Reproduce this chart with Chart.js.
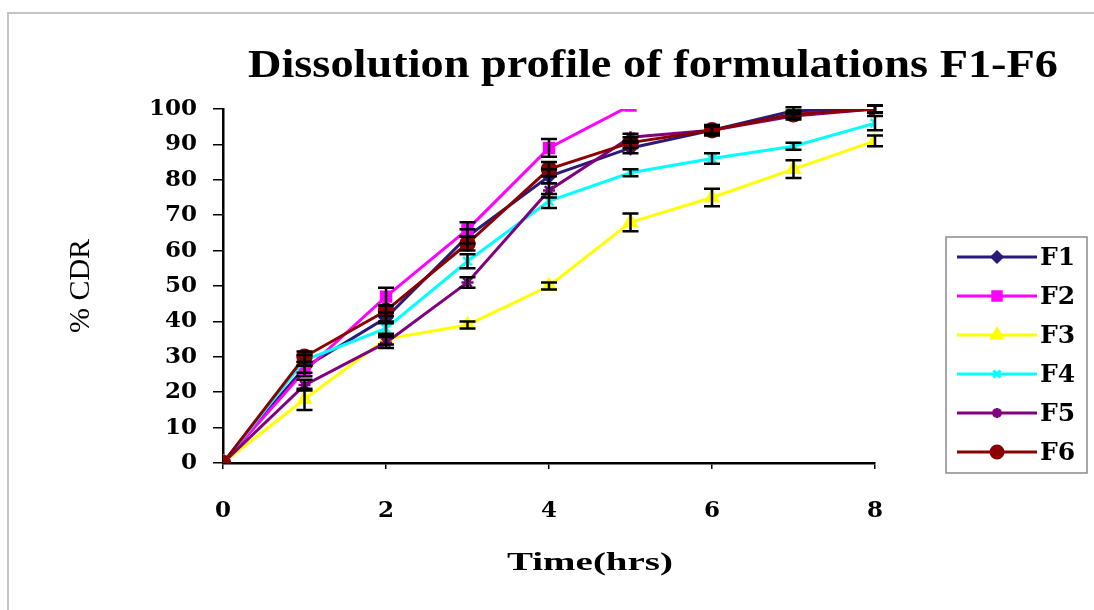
<html>
<head>
<script src="https://cdn.jsdelivr.net/npm/chart.js@4/dist/chart.umd.min.js"></script>
<style>
body { margin: 0; background: #fff; }
#wrap { position: relative; width: 1094px; height: 610px; }
#frame { position: absolute; left: 7px; top: 12px; width: 1200px; height: 700px;
  border-left: 2px solid #c4c4c4; border-top: 2px solid #c4c4c4; pointer-events: none; }
</style>
</head>
<body>
<div id="wrap">
<canvas id="myChart" width="1094" height="610"></canvas>
<div id="frame"></div>
</div>
<script>
// time in hours and %CDR for each formulation
const time = [0, 1, 2, 3, 4, 5, 6, 7, 8];
const F1 = [0, 27, 41, 64, 81, 89, 94, 99.5, 100];
const F2 = [0, 26, 47, 66, 89, 101];
const F3 = [0, 18, 35, 39, 50, 68, 75, 83, 91];
const F4 = [0, 29, 38, 57, 74, 82, 86, 89.5, 96];
const F5 = [0, 22, 34, 51, 77, 92, 94, 98, 100];
const F6 = [0, 30, 43, 62, 83, 90.5, 94, 98.5, 100];
// standard deviations (error bars)
const F1err = [0, 1.5, 1.5, 2, 2, 1.5, 1, 1, 1];
const F2err = [0, 1.5, 2.5, 2, 2.5, 0];
const F3err = [0, 3, 1.5, 1, 1, 2.5, 2.5, 2.5, 1.5];
const F4err = [0, 1.5, 2, 2, 2, 1, 1.5, 1, 2];
const F5err = [0, 1.5, 1.5, 1.5, 2, 1, 1, 1, 1];
const F6err = [0, 1.5, 1.5, 2, 2, 1.5, 1.5, 1, 1];
const yTicks = [0, 10, 20, 30, 40, 50, 60, 70, 80, 90, 100];
const xTicks = [0, 2, 4, 6, 8];

const names = ['F1', 'F2', 'F3', 'F4', 'F5', 'F6'];
const values = [F1, F2, F3, F4, F5, F6];
const errors = [F1err, F2err, F3err, F4err, F5err, F6err];
const colors = ['#2a1a7a', '#ff00ff', '#ffff00', '#00ffff', '#800080', '#8b0000'];
const markers = ['rectRot', 'rect', 'triangle', 'crossRot', 'star', 'circle'];
const sizes = [6, 7, 7, 6, 6, 7];

const serif = "'DejaVu Serif', serif";

let datasets = names.map((n, i) => ({
    label: n,
    data: values[i].map((v, j) => ({ x: time[j], y: v })),
    errors: errors[i],
    borderColor: colors[i],
    backgroundColor: colors[i],
    borderWidth: 3,
    pointStyle: markers[i],
    pointRadius: sizes[i],
    pointBorderWidth: 2.5,
    pointBorderColor: colors[i],
    pointBackgroundColor: colors[i],
    tension: 0,
    order: 5 - i
}));

// draw text squeezed/stretched to a given width
function fitText(ctx, text, cx, y, width) {
    let w = ctx.measureText(text).width;
    ctx.save();
    ctx.translate(cx, y);
    ctx.scale(width / w, 1);
    ctx.fillText(text, 0, 0);
    ctx.restore();
}

const extras = {
    id: 'extras',
    afterDatasetsDraw(chart) {
        let ctx = chart.ctx;
        let xs = chart.scales.x, ys = chart.scales.y;
        ctx.save();
        ctx.strokeStyle = '#000';
        ctx.lineWidth = 2.5;
        chart.data.datasets.forEach(ds => {
            ds.data.forEach((p, j) => {
                let e = ds.errors[j];
                if (!e || p.y > 100) return;
                let px = xs.getPixelForValue(p.x);
                let y1 = ys.getPixelForValue(p.y + e);
                let y2 = ys.getPixelForValue(p.y - e);
                ctx.beginPath();
                ctx.moveTo(px, y1); ctx.lineTo(px, y2);
                ctx.moveTo(px - 8, y1); ctx.lineTo(px + 8, y1);
                ctx.moveTo(px - 8, y2); ctx.lineTo(px + 8, y2);
                ctx.stroke();
            });
        });
        ctx.restore();
    },
    afterDraw(chart) {
        let ctx = chart.ctx;
        ctx.save();
        // title
        ctx.fillStyle = '#000';
        ctx.textAlign = 'center';
        ctx.textBaseline = 'alphabetic';
        ctx.font = "bold 40px 'Liberation Serif', serif";
        fitText(ctx, 'Dissolution profile of formulations F1-F6', 653, 77, 810);
        // x axis title
        ctx.font = "bold 26px 'Liberation Serif', serif";
        ctx.textBaseline = 'middle';
        fitText(ctx, 'Time(hrs)', 590, 563, 166);
        // legend
        ctx.fillStyle = '#fff';
        ctx.fillRect(946, 237, 141, 236);
        ctx.strokeStyle = '#8a8a8a';
        ctx.lineWidth = 1.5;
        ctx.strokeRect(946, 237, 141, 236);
        chart.data.datasets.forEach((ds, i) => {
            let y = 257 + i * 39;
            ctx.strokeStyle = ds.borderColor;
            ctx.lineWidth = 3;
            ctx.beginPath();
            ctx.moveTo(957, y); ctx.lineTo(1037, y);
            ctx.stroke();
            ctx.fillStyle = ds.borderColor;
            Chart.helpers.drawPoint(ctx, {
                pointStyle: ds.pointStyle, radius: ds.pointRadius - 1, rotation: 0,
                borderWidth: 2
            }, 997, y);
            ctx.fillStyle = '#000';
            ctx.textAlign = 'left';
            ctx.textBaseline = 'middle';
            ctx.font = 'bold 25px ' + serif;
            ctx.fillText(ds.label, 1040, y + 1);
        });
        ctx.restore();
    }
};

let ctx = document.getElementById('myChart').getContext('2d');
let myChart = new Chart(ctx, {
    type: 'line',
    data: { datasets: datasets },
    plugins: [extras],
    options: {
        responsive: false,
        animation: false,
        layout: { padding: { left: 55, top: 109, right: 219, bottom: 27 } },
        plugins: { legend: { display: false }, tooltip: { enabled: false } },
        scales: {
            x: {
                type: 'linear', min: 0, max: 8,
                afterFit: s => { s.height = 120; },
                afterBuildTicks: s => { s.ticks = xTicks.map(v => ({ value: v })); },
                grid: { drawOnChartArea: false, tickLength: 6, color: '#000', lineWidth: 1.5 },
                border: { color: '#000', width: 2.5 },
                ticks: { color: '#000', padding: 28, maxRotation: 0, font: { family: serif, size: 23, weight: 'bold' } }
            },
            y: {
                min: 0, max: 100,
                afterFit: s => { s.width = 168; },
                afterBuildTicks: s => { s.ticks = yTicks.map(v => ({ value: v })); },
                grid: { drawOnChartArea: false, tickLength: 10, color: '#000', lineWidth: 1.5 },
                border: { color: '#000', width: 2.5 },
                ticks: { color: '#000', padding: 16, font: { family: serif, size: 23, weight: 'bold' } },
                title: {
                    display: true, text: '% CDR', color: '#000', padding: { top: 8 },
                    font: { family: "'Liberation Serif', serif", size: 30 }
                }
            }
        }
    }
});
</script>
</body>
</html>
